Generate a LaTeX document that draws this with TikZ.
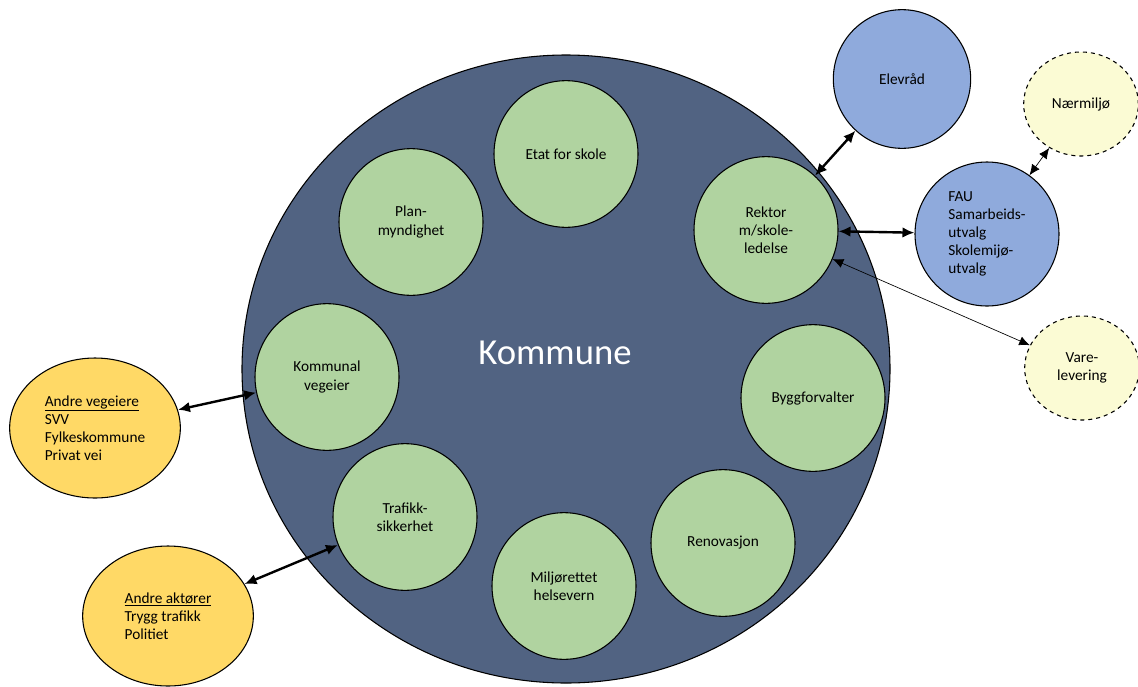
\documentclass[tikz,border=0pt]{standalone}
\usepackage{fontspec}
\setmainfont{Carlito}
\usetikzlibrary{shapes.geometric,arrows.meta}

\definecolor{kommblue}{RGB}{81,99,130}
\definecolor{etatgreen}{RGB}{176,211,160}
\definecolor{skoleblue}{RGB}{143,170,220}
\definecolor{aktyellow}{RGB}{255,217,102}
\definecolor{paleyellow}{RGB}{251,251,212}

\tikzset{
  rund/.style={ellipse, draw=black, line width=0.8pt, inner sep=0pt, font=\fontsize{11.5}{13.6}\selectfont, align=center},
  etat/.style={rund, fill=etatgreen, minimum width=108pt, minimum height=110pt},
  skole/.style={rund, fill=skoleblue},
  aktor/.style={rund, fill=aktyellow, minimum width=128pt, minimum height=105pt},
  ekstern/.style={rund, fill=paleyellow, dashed, minimum width=86pt, minimum height=78pt},
  tykk/.style={{Latex[length=9pt,width=8pt]}-{Latex[length=9pt,width=8pt]}, line width=1.8pt},
  tynn/.style={{Latex[length=8pt,width=7pt]}-{Latex[length=8pt,width=7pt]}, line width=0.5pt}
}

\begin{document}
\begin{tikzpicture}[x=0.75pt,y=-0.75pt]
            \useasboundingbox (0,0) rectangle (1138,686);
            % kommunen
            \node[ellipse, draw=black, line width=0.8pt, fill=kommblue, minimum width=486pt, minimum height=471pt] (kommune) at (566,369) {};
            \node[text=white, font=\fontsize{27.5}{32}\selectfont] (kommunetxt) at (555,353) {Kommune};
            % enheter i kommunen
            \node[etat] (etatskole) at (566,154) {Etat for skole};
            \node[etat] (plan) at (411,222) {Plan-\\ myndighet};
            \node[etat] (rektor) at (766,230) {Rektor\\ m/skole-\\ ledelse};
            \node[etat] (vegeier) at (327,377) {Kommunal\\ vegeier};
            \node[etat] (bygg) at (813,398) {Byggforvalter};
            \node[etat] (trafikk) at (405,517) {Trafikk-\\ sikkerhet};
            \node[etat] (renovasjon) at (723,543) {Renovasjon};
            \node[etat] (miljo) at (564,586) {Miljørettet\\ helsevern};
            % skolen
            \node[skole, minimum width=103pt, minimum height=104pt] (elevrad) at (902,79) {Elevråd};
            \node[skole, minimum width=108pt, minimum height=108pt, align=left] (fau) at (987,234) {FAU\\ Samarbeids-\\ utvalg\\ Skolemijø-\\ utvalg};
            \node[ekstern] (narmiljo) at (1081,104) {Nærmiljø};
            \node[ekstern] (vare) at (1082,368) {Vare-\\ levering};
            % andre aktorer
            \node[aktor, align=left] (vegeiere) at (95,428) {\underline{Andre vegeiere}\\ SVV\\ Fylkeskommune\\ Privat vei};
            \node[aktor, align=left] (aktorer) at (168,616) {\underline{Andre aktører}\\ Trygg trafikk\\ Politiet};
            % piler
            \draw[tykk] (vegeiere) -- (vegeier);
            \draw[tykk] (aktorer) -- (trafikk);
            \draw[tykk] (rektor) -- (elevrad);
            \draw[tykk] (rektor) -- (fau);
            \draw[tynn] (fau) -- (narmiljo);
            \draw[tynn] (rektor) -- (vare);
        \end{tikzpicture}
\end{document}
